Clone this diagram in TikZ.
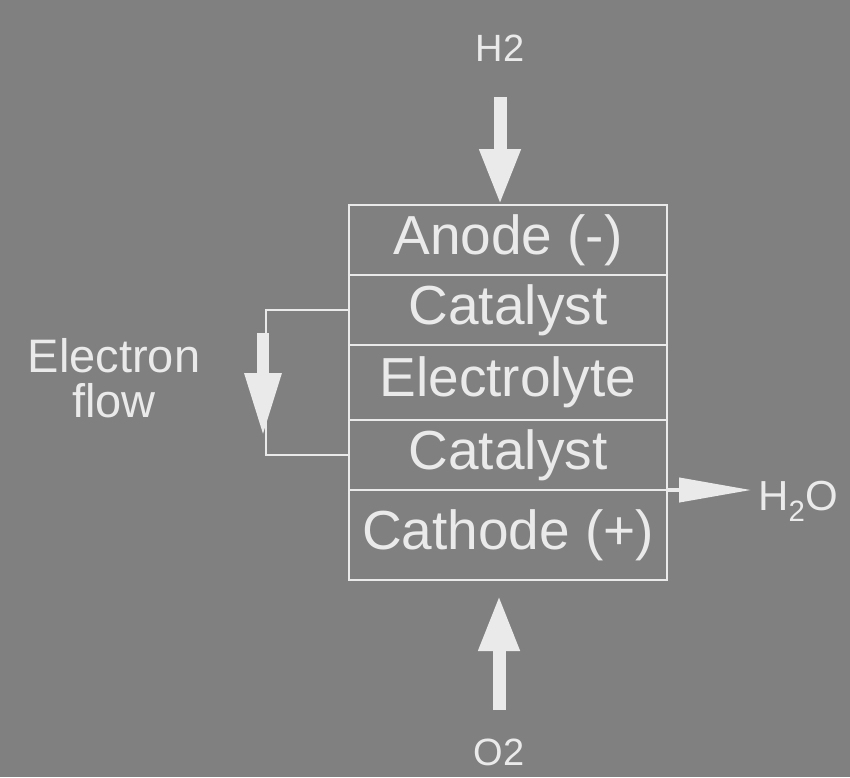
\documentclass[tikz,border=0pt]{standalone}
\usepackage{fontspec}
\setmainfont{Liberation Sans}
\usetikzlibrary{positioning, arrows.meta}
\definecolor{bggray}{RGB}{128,128,128}
\definecolor{ink}{RGB}{234,234,234}

\begin{document}
\begin{tikzpicture}[
    x=1pt, y=-1pt,
    % Layer styles
    layer/.style={draw=ink, line width=2.5pt, rectangle, minimum width=318pt, inner sep=0pt, outer sep=0pt, text=ink, font=\fontsize{55}{60}\selectfont},
    gas/.style={text=ink, font=\fontsize{38}{40}\selectfont, inner sep=0pt},
    % Arrow styles
    wire/.style={draw=ink, line width=2.5pt},
    fat_arrow/.style={draw=ink, line width=13pt, -{Triangle[length=56pt, width=38pt]}},
    flow_arrow/.style={draw=ink, line width=12pt, -{Triangle[length=64pt, width=34pt]}},
    thin_arrow/.style={draw=ink, line width=4pt, -{Triangle[length=72pt, width=24pt]}}
]
    % background fixes the page size
    \fill[bggray] (0,0) rectangle (850,777);

    % ==================== Cell stack ====================
    \node (anode) [layer, minimum height=70pt, anchor=north] at (508,205) {Anode (-)};
    \node (cat1) [layer, minimum height=70pt, below=0pt of anode] {Catalyst};
    \node (electrolyte) [layer, minimum height=75pt, below=0pt of cat1] {Electrolyte};
    \node (cat2) [layer, minimum height=70pt, below=0pt of electrolyte] {Catalyst};
    \node (cathode) [layer, minimum height=90pt, below=0pt of cat2] {Cathode (+)};

    % ==================== Gases ====================
    \node (h2) [gas] at (500,48) {H2};
    \coordinate (h2_tail) at (500,97);
    \draw [fat_arrow] (h2_tail) -- (h2_tail |- anode.north);

    \node (o2) [gas] at (499,752) {O2};
    \coordinate (o2_tail) at (499,710);
    \draw [fat_arrow, shorten >=15pt] (o2_tail) -- (o2_tail |- cathode.south);

    \node (h2o) [gas, anchor=base west, font=\fontsize{42}{44}\selectfont] at (758,510) {H\textsubscript{2}O};
    \draw [thin_arrow, shorten >=7pt] (cathode.north east) -- (h2o.west |- cathode.north east);

    % ==================== Electron flow ====================
    \draw [wire] (cat1.west) -- ++(-83,0) |- (cat2.west);
    \coordinate (e_top) at (263,333);
    \coordinate (e_tip) at (263,437);
    \draw [flow_arrow] (e_top) -- (e_tip);

    \node (eflow) [text=ink, align=center, font=\fontsize{47}{45}\selectfont] at (114,378) {Electron\\flow};

\end{tikzpicture}
\end{document}
